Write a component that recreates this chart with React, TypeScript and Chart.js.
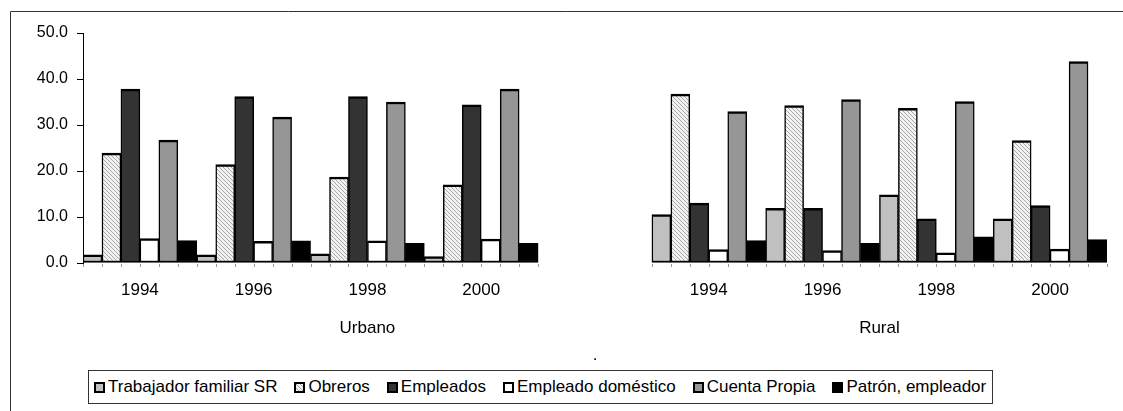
import React, { useEffect, useRef } from 'react';
import { Chart, registerables } from 'chart.js';

Chart.register(...registerables);

// Category slots: 4 Urbano years, an empty slot, 4 Rural years
const CATEGORIES = ['1994', '1996', '1998', '2000', '', '1994', '1996', '1998', '2000'];

const TRABAJADOR = [1.8, 1.8, 2.0, 1.4, null, 10.5, 11.9, 14.8, 9.6];
const OBREROS = [23.9, 21.4, 18.7, 17.0, null, 36.7, 34.2, 33.6, 26.6];
const EMPLEADOS = [37.8, 36.2, 36.2, 34.4, null, 13.0, 11.9, 9.6, 12.5];
const DOMESTICO = [5.3, 4.7, 4.8, 5.2, null, 2.9, 2.7, 2.2, 3.0];
const CUENTA = [26.7, 31.7, 35.0, 37.8, null, 32.9, 35.5, 35.1, 43.8];
const PATRON = [4.9, 4.8, 4.3, 4.3, null, 4.9, 4.3, 5.7, 5.1];

const SERIES_NAMES = [
  'Trabajador familiar SR',
  'Obreros',
  'Empleados',
  'Empleado doméstico',
  'Cuenta Propia',
  'Patrón, empleador',
];

// outer category level: label and the slot range it spans
const GROUP_LABELS = ['Urbano', 'Rural'];
const GROUP_FIRST = [0, 5];
const GROUP_LAST = [4, 8];

const Y_MAX = 50;
const Y_STEP = 10;

const FONT = "'Liberation Sans', Arial, Helvetica, sans-serif";

function makeHatch(): CanvasPattern | string {
  const c = document.createElement('canvas');
  c.width = 4;
  c.height = 4;
  const g = c.getContext('2d');
  if (!g) return '#d9d9d9';
  g.fillStyle = '#f2f2f2';
  g.fillRect(0, 0, 4, 4);
  g.strokeStyle = '#a8a8a8';
  g.lineWidth = 1;
  g.beginPath();
  g.moveTo(-1, -1);
  g.lineTo(5, 5);
  g.moveTo(-1, 3);
  g.lineTo(1, 5);
  g.moveTo(3, -1);
  g.lineTo(5, 1);
  g.stroke();
  const p = g.createPattern(c, 'repeat');
  return p || '#d9d9d9';
}

const LEGEND_FILLS = ['#c0c0c0', 'hatch', '#333333', '#ffffff', '#969696', '#000000'];

const labelsPlugin = {
  id: 'customLabels',
  beforeDraw(chart: any) {
    const ctx = chart.ctx;
    ctx.save();
    ctx.fillStyle = '#ffffff';
    ctx.fillRect(0, 0, chart.width, chart.height);
    ctx.strokeStyle = '#333333';
    ctx.lineWidth = 1;
    ctx.beginPath();
    ctx.moveTo(10.5, chart.height);
    ctx.lineTo(10.5, 11.5);
    ctx.lineTo(chart.width, 11.5);
    ctx.stroke();
    ctx.restore();
  },
  afterDraw(chart: any) {
    const ctx = chart.ctx;
    const x = chart.scales.x;
    const y = chart.scales.y;
    const base = y.getPixelForValue(0);
    ctx.save();
    // small tick marks under each bar edge
    ctx.strokeStyle = '#999999';
    ctx.lineWidth = 1;
    chart.data.datasets.forEach((_: any, i: number) => {
      const meta = chart.getDatasetMeta(i);
      meta.data.forEach((bar: any, j: number) => {
        if (chart.data.datasets[i].data[j] == null) return;
        const p = bar.getProps(['x', 'width'], true);
        [p.x - p.width / 2, p.x + p.width / 2].forEach((ex: number) => {
          const px = Math.round(ex) + 0.5;
          ctx.beginPath();
          ctx.moveTo(px, base + 1);
          ctx.lineTo(px, base + 4);
          ctx.stroke();
        });
      });
    });
    ctx.fillStyle = '#000000';
    ctx.font = `17px ${FONT}`;
    ctx.textAlign = 'center';
    ctx.textBaseline = 'alphabetic';
    GROUP_LABELS.forEach((t, i) => {
      const cx = (x.getPixelForValue(GROUP_FIRST[i] - 0.5) + x.getPixelForValue(GROUP_LAST[i] + 0.5)) / 2;
      ctx.fillText(t, cx, base + 70);
    });
    ctx.fillText('.', x.getPixelForValue(4), base + 97);
    ctx.restore();
  },
};

export default function App() {
  const ref = useRef<HTMLCanvasElement | null>(null);

  useEffect(() => {
    if (!ref.current) return;
    const hatch = makeHatch();
    const common = {
      borderColor: '#000000',
      borderWidth: { top: 2.5, bottom: 2, left: 1.5, right: 1.5 },
      borderSkipped: false as const,
      categoryPercentage: 1.0,
      barPercentage: 1.0,
    };
    const chart = new Chart(ref.current, {
      type: 'bar',
      data: {
        labels: CATEGORIES,
        datasets: [
          { label: SERIES_NAMES[0], data: TRABAJADOR, backgroundColor: '#c0c0c0', ...common },
          { label: SERIES_NAMES[1], data: OBREROS, backgroundColor: hatch as any, ...common },
          { label: SERIES_NAMES[2], data: EMPLEADOS, backgroundColor: '#333333', ...common },
          { label: SERIES_NAMES[3], data: DOMESTICO, backgroundColor: '#ffffff', ...common },
          { label: SERIES_NAMES[4], data: CUENTA, backgroundColor: '#969696', ...common },
          { label: SERIES_NAMES[5], data: PATRON, backgroundColor: '#000000', ...common },
        ],
      },
      options: {
        animation: false,
        responsive: false,
        devicePixelRatio: 1,
        layout: { padding: { left: 0, right: 16, top: 33, bottom: 0 } },
        plugins: {
          legend: { display: false },
          tooltip: { enabled: false },
          title: { display: false },
        },
        scales: {
          x: {
            type: 'category',
            offset: true,
            grid: { display: false },
            border: { display: false },
            ticks: {
              display: true,
              color: '#000000',
              font: { size: 17, family: FONT },
              padding: 9,
              maxRotation: 0,
              autoSkip: false,
            },
            afterFit: (s: any) => {
              s.height = 148;
            },
          },
          y: {
            min: 0,
            max: Y_MAX,
            ticks: {
              stepSize: Y_STEP,
              color: '#000000',
              font: { size: 16, family: FONT },
              padding: 9,
              callback: (v: any) => Number(v).toFixed(1),
            },
            grid: {
              drawOnChartArea: false,
              drawTicks: true,
              tickLength: 6,
              color: '#000000',
              lineWidth: 1,
            },
            border: { display: true, color: '#000000', width: 1 },
            afterFit: (s: any) => {
              s.width = 83;
            },
          },
        },
      },
      plugins: [labelsPlugin],
    });
    return () => chart.destroy();
  }, []);

  const legendBox = (fill: string) => {
    const style: React.CSSProperties = {
      width: 11,
      height: 11,
      boxSizing: 'border-box',
      border: '2px solid #000',
      marginRight: 3,
      flex: '0 0 auto',
    };
    if (fill === 'hatch') {
      style.background =
        'repeating-linear-gradient(45deg, #f2f2f2 0px, #f2f2f2 1.5px, #a8a8a8 1.5px, #a8a8a8 2.8px)';
    } else {
      style.background = fill;
    }
    return <span style={style} />;
  };

  return (
    <div style={{ position: 'absolute', left: 0, top: 0, width: 1123, height: 411, overflow: 'hidden', background: '#fff' }}>
      <canvas ref={ref} width={1123} height={411} style={{ display: 'block', width: 1123, height: 411 }} />
      <div
        style={{
          position: 'absolute',
          left: 88,
          top: 370,
          width: 905,
          height: 34,
          boxSizing: 'border-box',
          border: '1px solid #333',
          background: '#fff',
          display: 'flex',
          alignItems: 'center',
          paddingLeft: 5,
          fontFamily: FONT,
          fontSize: 17,
          color: '#000',
          whiteSpace: 'nowrap',
        }}
      >
        {SERIES_NAMES.map((n, i) => (
          <span key={n} style={{ display: 'flex', alignItems: 'center', marginRight: 17 }}>
            {legendBox(LEGEND_FILLS[i])}
            <span>{n}</span>
          </span>
        ))}
      </div>
    </div>
  );
}
